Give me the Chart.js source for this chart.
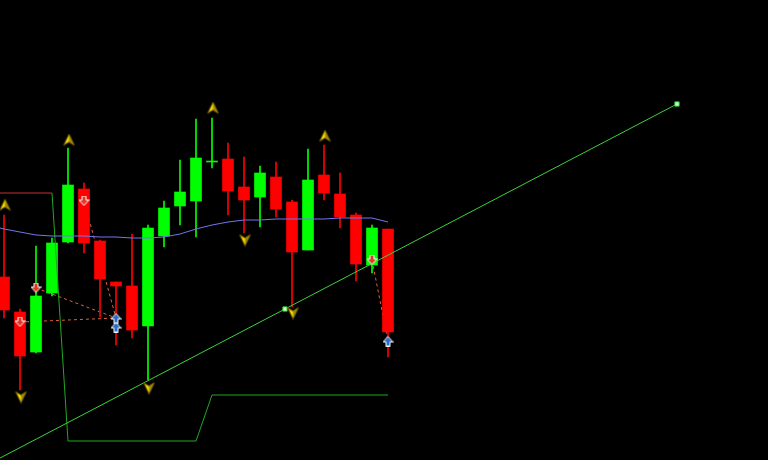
<!DOCTYPE html>
<html>
<head>
<meta charset="utf-8">
<script src="https://cdn.jsdelivr.net/npm/chart.js@4.4.1/dist/chart.umd.min.js"></script>
<style>
  html, body { margin: 0; padding: 0; background: #000; }
  #wrap { width: 768px; height: 460px; }
</style>
</head>
<body>
<div id="wrap"><canvas id="chart" width="768" height="460"></canvas></div>
<script>
// price chart: candles, MA, level line, trend line, fractals and signals
// bar 0 sits just off the left edge, only the lines use it

var bars   = [1, 2, 3, 4, 5, 6, 7, 8, 9, 10, 11, 12, 13, 14, 15, 16, 17, 18, 19, 20, 21, 22, 23, 24, 25];
var opens  = [1.1183, 1.1148, 1.1108, 1.1167, 1.1218, 1.1271, 1.1219, 1.1178, 1.1174, 1.1134, 1.1224, 1.1254, 1.1259, 1.1298, 1.1301, 1.1273, 1.1263, 1.1283, 1.1258, 1.1210, 1.1285, 1.1266, 1.1245, 1.1195, 1.1231];
var highs  = [1.1245, 1.1151, 1.1214, 1.1222, 1.1312, 1.1277, 1.1220, 1.1178, 1.1226, 1.1235, 1.1259, 1.1300, 1.1341, 1.1342, 1.1317, 1.1303, 1.1294, 1.1298, 1.1260, 1.1311, 1.1315, 1.1287, 1.1247, 1.1235, 1.1231];
var lows   = [1.1142, 1.1070, 1.1107, 1.1164, 1.1217, 1.1207, 1.1143, 1.1115, 1.1122, 1.1080, 1.1213, 1.1235, 1.1223, 1.1292, 1.1245, 1.1227, 1.1233, 1.1243, 1.1153, 1.1210, 1.1260, 1.1232, 1.1179, 1.1187, 1.1103];
var closes = [1.1150, 1.1104, 1.1164, 1.1217, 1.1275, 1.1217, 1.1181, 1.1174, 1.1130, 1.1232, 1.1252, 1.1268, 1.1302, 1.1299, 1.1269, 1.1260, 1.1287, 1.1251, 1.1208, 1.1280, 1.1267, 1.1243, 1.1196, 1.1232, 1.1128];

// moving average, bars 0..25
var maBars = [0, 1, 2, 3, 4, 5, 6, 7, 8, 9, 10, 11, 12, 13, 14, 15, 16, 17, 18, 19, 20, 21, 22, 23, 24, 25];
var maVals = [1.1235, 1.1231, 1.1228, 1.1225, 1.1224, 1.1224, 1.1224, 1.1223, 1.1223, 1.1222, 1.1222, 1.1223, 1.1226, 1.1231, 1.1235, 1.1238, 1.1240, 1.1240, 1.1241, 1.1241, 1.1241, 1.1241, 1.1242, 1.1242, 1.1242, 1.1238];

// stepped level line, bars 0..25 (dn = red, up = green)
var stepVals = [1.1267, 1.1267, 1.1267, 1.1267, 1.1267, 1.1019, 1.1019, 1.1019, 1.1019, 1.1019, 1.1019, 1.1019, 1.1019, 1.1019, 1.1065, 1.1065, 1.1065, 1.1065, 1.1065, 1.1065, 1.1065, 1.1065, 1.1065, 1.1065, 1.1065, 1.1065];
var stepSide = ['dn', 'dn', 'dn', 'dn', 'dn', 'up', 'up', 'up', 'up', 'up', 'up', 'up', 'up', 'up', 'up', 'up', 'up', 'up', 'up', 'up', 'up', 'up', 'up', 'up', 'up', 'up'];

// trend line anchors
var trendBars   = [18.5625, 43.0625];
var trendPrices = [1.1151, 1.1356];

// fractals
var fracUpBars   = [1, 5, 14, 21];
var fracUpPrices = [1.1255, 1.1320, 1.1352, 1.1324];
var fracDnBars   = [2, 10, 16, 19];
var fracDnPrices = [1.1063, 1.1072, 1.1220, 1.1147];

// signal arrows
var sellBars   = [2, 3, 6, 24];
var sellPrices = [1.1138, 1.1172, 1.1259, 1.1200];
var buyBars    = [8, 8, 25];
var buyPrices  = [1.1142, 1.1133, 1.1119];

var GREEN = '#00ff00';
var RED = '#ff0000';

function xy(xs, ys) {
  return xs.map(function (x, i) { return { x: x, y: ys[i] }; });
}

/* little sprites for the arrows */
function sprite(w, h, draw) {
  var c = document.createElement('canvas');
  c.width = w; c.height = h;
  draw(c.getContext('2d'));
  return c;
}

// fractal arrowhead, drawn a little right of the bar like the terminal does
function fractal(up) {
  return sprite(17, 13, function (g) {
    if (!up) { g.translate(0, 13); g.scale(1, -1); }
    g.translate(3, 0);
    g.beginPath();
    g.moveTo(6.5, 0.5); g.lineTo(12, 12); g.lineTo(6.5, 8.5); g.lineTo(1, 12); g.closePath();
    g.fillStyle = '#ffe000'; g.fill();
    g.lineWidth = 1; g.strokeStyle = '#5c4c00'; g.stroke();
    g.beginPath();
    g.moveTo(6.5, 1.5); g.lineTo(11, 11); g.lineTo(6.5, 8.5); g.closePath();
    g.fillStyle = '#9c8600'; g.fill();
  });
}

function blockArrow(up, fill) {
  return sprite(11, 11, function (g) {
    if (up) { g.translate(0, 11); g.scale(1, -1); }
    g.beginPath();
    g.moveTo(3.5, 0.5); g.lineTo(7.5, 0.5); g.lineTo(7.5, 4.5); g.lineTo(10.5, 4.5);
    g.lineTo(5.5, 10); g.lineTo(0.5, 4.5); g.lineTo(3.5, 4.5); g.closePath();
    g.fillStyle = fill; g.fill();
    g.lineWidth = 1; g.strokeStyle = '#ffffff'; g.stroke();
  });
}

var candleColors = bars.map(function (b, i) { return closes[i] >= opens[i] ? GREEN : RED; });
var bodies = bars.map(function (b, i) { return { x: b, y: [opens[i], closes[i]] }; });
var wicks = bars.map(function (b, i) { return { x: b, y: [lows[i], highs[i]] }; });

// trend line drawn as a ray to the left from its anchors
var slope = (trendPrices[1] - trendPrices[0]) / (trendBars[1] - trendBars[0]);
var trendData = [{ x: 0, y: trendPrices[0] - slope * trendBars[0] }].concat(xy(trendBars, trendPrices));

// dashed links from each sell to the next buy
var linkSets = sellBars.map(function (sb, i) {
  var j = buyBars.findIndex(function (bb) { return bb > sb; });
  return {
    type: 'line',
    data: [{ x: sb, y: sellPrices[i] }, { x: buyBars[j], y: buyPrices[j] }],
    borderColor: '#e0603c',
    borderWidth: 1,
    borderDash: [3, 3],
    pointRadius: 0,
    order: 10
  };
});

var datasets = linkSets.concat([
  {
    type: 'bar',
    data: wicks,
    backgroundColor: candleColors,
    barThickness: 1,
    grouped: false,
    order: 6
  },
  {
    type: 'bar',
    data: bodies,
    backgroundColor: candleColors,
    barThickness: 11,
    grouped: false,
    order: 5
  },
  {
    type: 'line',
    data: xy(maBars, stepVals),
    borderWidth: 1,
    pointRadius: 0,
    segment: {
      borderColor: function (ctx) {
        return stepSide[ctx.p1DataIndex] === 'dn' ? '#c83232' : '#22a822';
      }
    },
    order: 4
  },
  {
    type: 'line',
    data: xy(maBars, maVals),
    borderColor: '#7474f0',
    borderWidth: 1,
    pointRadius: 0,
    order: 3
  },
  {
    type: 'line',
    data: trendData,
    borderColor: '#3cd23c',
    borderWidth: 1,
    pointStyle: 'rect',
    pointRadius: function (ctx) { return ctx.dataIndex === 0 ? 0 : 3; },
    pointBackgroundColor: '#c8ffc8',
    pointBorderColor: '#30d030',
    pointBorderWidth: 1,
    order: 2
  },
  {
    type: 'line',
    data: xy(fracUpBars, fracUpPrices),
    showLine: false,
    pointStyle: fractal(true),
    order: 1
  },
  {
    type: 'line',
    data: xy(fracDnBars, fracDnPrices),
    showLine: false,
    pointStyle: fractal(false),
    order: 1
  },
  {
    type: 'line',
    data: xy(sellBars, sellPrices),
    showLine: false,
    pointStyle: blockArrow(false, '#e03824'),
    order: 0
  },
  {
    type: 'line',
    data: xy(buyBars, buyPrices),
    showLine: false,
    pointStyle: blockArrow(true, '#2a6cc8'),
    order: 0
  }
]);

new Chart(document.getElementById('chart'), {
  type: 'bar',
  data: { datasets: datasets },
  options: {
    responsive: false,
    animation: false,
    layout: { padding: 0, autoPadding: false },
    scales: {
      x: { type: 'linear', min: 0.75, max: 48.75, offset: false, display: false },
      y: { min: 1.1000, max: 1.1460, display: false }
    },
    plugins: {
      legend: { display: false },
      tooltip: { enabled: false }
    }
  }
});
</script>
</body>
</html>
